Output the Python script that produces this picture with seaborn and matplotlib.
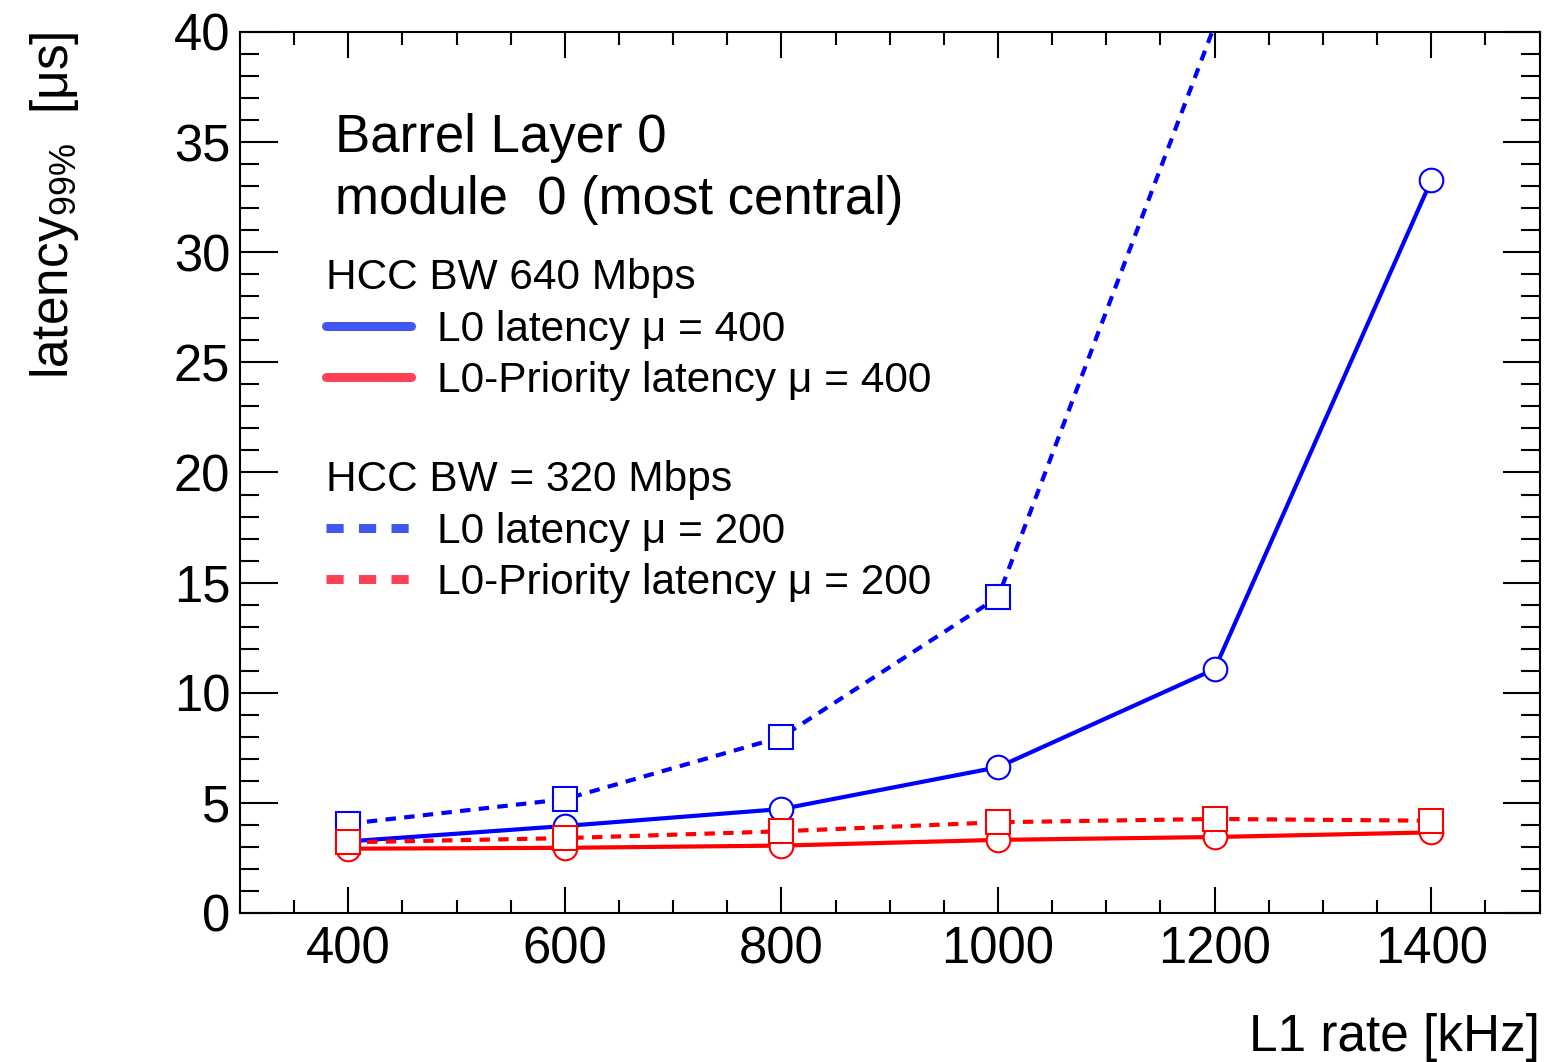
import numpy as np
import pandas as pd
import matplotlib
matplotlib.use("Agg")
import matplotlib.pyplot as plt
from matplotlib.lines import Line2D
from matplotlib.ticker import MultipleLocator
import seaborn as sns

# ---------------- data ----------------
l1_rate = [400, 600, 800, 1000, 1200, 1400]
l0_lat_640 = [3.25, 3.95, 4.72, 6.62, 11.07, 33.26]          # blue solid, circles
l0prio_lat_640 = [2.92, 2.96, 3.06, 3.32, 3.45, 3.66]        # red solid, circles
l1_rate_320 = [400, 600, 800, 1000, 1200]
l0_lat_320 = [4.05, 5.17, 7.99, 14.34, 40.3]                 # blue dashed, squares
l0prio_lat_320 = [3.21, 3.40, 3.71, 4.12, 4.27, 4.19]        # red dashed, squares

x_ticks = [400, 600, 800, 1000, 1200, 1400]
y_ticks = [0, 5, 10, 15, 20, 25, 30, 35, 40]
xlim = (300, 1500)
ylim = (0, 40)

text_lines = ["Barrel Layer 0", "module  0 (most central)"]
leg1_title = "HCC BW 640 Mbps"
leg2_title = "HCC BW = 320 Mbps"
leg1_labels = ["L0 latency μ = 400", "L0-Priority latency μ = 400"]
leg2_labels = ["L0 latency μ = 200", "L0-Priority latency μ = 200"]

# ---------------- style ----------------
sns.set_theme(style="ticks")
plt.rcParams["font.family"] = ["Liberation Sans", "DejaVu Sans"]
plt.rcParams["mathtext.fontset"] = "custom"
plt.rcParams["mathtext.rm"] = "Liberation Sans"
plt.rcParams["mathtext.it"] = "Liberation Sans:italic"
plt.rcParams["axes.linewidth"] = 1.5
plt.rcParams["text.color"] = "black"
plt.rcParams["axes.labelcolor"] = "black"
plt.rcParams["xtick.color"] = "black"
plt.rcParams["ytick.color"] = "black"
plt.rcParams["legend.labelcolor"] = "black"

BLUE = "#0000ff"
RED = "#ff0000"
BLUE_LEG = "#4057f0"
RED_LEG = "#ff4055"

fig = plt.figure(figsize=(15.47, 10.62), dpi=100)
ax = fig.add_axes([240 / 1547, 1 - 913 / 1062, 1299.5 / 1547, 881 / 1062])
ax.set_facecolor("white")
fig.patch.set_facecolor("white")

lw = 3.0
msz = 17
mew = 1.5
dash = (2.5, 2.0)

def in_range(vals):
    return [i for i, v in enumerate(vals) if ylim[0] <= v <= ylim[1]]

sns.lineplot(x=l1_rate, y=l0_lat_640, ax=ax, color=BLUE, lw=lw, marker="o",
             markersize=msz, markerfacecolor="white", markeredgecolor=BLUE,
             markeredgewidth=mew, markevery=in_range(l0_lat_640))
sns.lineplot(x=l1_rate_320, y=l0_lat_320, ax=ax, color=BLUE, lw=lw, marker="s",
             markersize=msz, markerfacecolor="white", markeredgecolor=BLUE,
             markeredgewidth=mew, dashes=False, markevery=in_range(l0_lat_320))
ax.lines[-1].set_dashes(dash)
sns.lineplot(x=l1_rate, y=l0prio_lat_640, ax=ax, color=RED, lw=lw, marker="o",
             markersize=msz, markerfacecolor="white", markeredgecolor=RED,
             markeredgewidth=mew, markevery=in_range(l0prio_lat_640))
sns.lineplot(x=l1_rate, y=l0prio_lat_320, ax=ax, color=RED, lw=lw, marker="s",
             markersize=msz, markerfacecolor="white", markeredgecolor=RED,
             markeredgewidth=mew, dashes=False, markevery=in_range(l0prio_lat_320))
ax.lines[-1].set_dashes(dash)

ax.set_xlim(*xlim)
ax.set_ylim(*ylim)
ax.set_xticks(x_ticks)
ax.set_yticks(y_ticks)
ax.xaxis.set_minor_locator(MultipleLocator(50))
ax.yaxis.set_minor_locator(MultipleLocator(1))

for s in ax.spines.values():
    s.set_visible(True)
    s.set_color("black")
    s.set_linewidth(1.5)

ax.tick_params(axis="both", which="both", direction="in", top=True, right=True,
               color="black", width=1.5, labelcolor="black")
ax.tick_params(axis="x", which="major", length=19, labelsize=36.5, pad=9)
ax.tick_params(axis="x", which="minor", length=9.4)
ax.tick_params(axis="y", which="major", length=27, labelsize=36.5, pad=7)
ax.tick_params(axis="y", which="minor", length=13.7)

ax.set_xlabel("L1 rate [kHz]", fontsize=37, loc="right", color="black")
ax.xaxis.set_label_coords(1.0, -0.114)
ax.set_ylabel(r"latency$_{\mathregular{99\%}}$  [μs]", fontsize=37, loc="top",
              color="black")
ax.yaxis.set_label_coords(-0.1227, 1.0)

ax.text(0.0731, 0.8638, text_lines[0], transform=ax.transAxes, fontsize=38,
        va="baseline", ha="left", color="black")
ax.text(0.0731, 0.7934, text_lines[1], transform=ax.transAxes, fontsize=38,
        va="baseline", ha="left", color="black")

h1 = [Line2D([], [], color=BLUE_LEG, lw=6.5),
      Line2D([], [], color=RED_LEG, lw=6.5)]
h2 = [Line2D([], [], color=BLUE_LEG, lw=6.5, dashes=(1.9, 1.7)),
      Line2D([], [], color=RED_LEG, lw=6.5, dashes=(1.9, 1.7))]

common = dict(frameon=False, fontsize=30.5, title_fontsize=30.5, alignment="left",
              loc="upper left", borderpad=0, borderaxespad=0, handlelength=2.0,
              handletextpad=0.6, labelspacing=0.27, labelcolor="black")
leg1 = ax.legend(h1, leg1_labels, title=leg1_title,
                 bbox_to_anchor=(0.0665, 0.7434), **common)
leg1.get_title().set_color("black")
ax.add_artist(leg1)
leg2 = ax.legend(h2, leg2_labels, title=leg2_title,
                 bbox_to_anchor=(0.0665, 0.5141), **common)
leg2.get_title().set_color("black")

fig.savefig("out.png", dpi=100, facecolor="white")
